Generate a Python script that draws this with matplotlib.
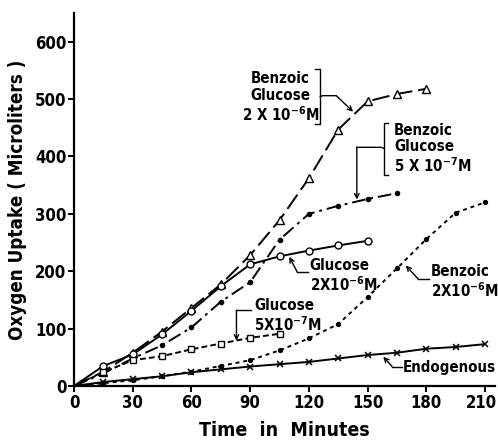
import matplotlib
matplotlib.use("Agg")
import matplotlib.pyplot as plt
from matplotlib.transforms import ScaledTranslation

# узкий жирный шрифт, как в старой печати
plt.rcParams["font.family"] = ["DejaVu Sans"]
plt.rcParams["font.weight"] = "bold"
plt.rcParams["font.stretch"] = "condensed"
plt.rcParams["mathtext.fontset"] = "custom"
plt.rcParams["mathtext.rm"] = "DejaVu Sans:weight=bold:stretch=condensed"
plt.rcParams["mathtext.default"] = "rm"

minutes = [0, 15, 30, 45, 60, 75, 90, 105, 120, 135, 150, 165, 180, 195, 210]

# кривые поглощения кислорода
benz_gluc_2e6 = [0, 25, 58, 95, 136, 177, 228, 289, 362, 447, 496, 509, 518]
benz_gluc_5e7 = [0, 22, 48, 71, 102, 147, 181, 255, 300, 314, 326, 336]
gluc_2e6 = [0, 35, 55, 90, 131, 174, 212, 226, 236, 245, 253]
gluc_5e7 = [0, 24, 45, 52, 64, 74, 84, 91]
benz_2e6 = [0, 5, 10, 17, 25, 35, 45, 62, 83, 108, 155, 205, 256, 302, 320]
endogenous = [0, 7, 12, 17, 24, 29, 34, 38, 42, 48, 54, 58, 65, 68, 73]

x_ticks = [0, 30, 60, 90, 120, 150, 180, 210]
y_ticks = [0, 100, 200, 300, 400, 500, 600]

fig = plt.figure(figsize=(4.98, 4.44), dpi=100)
ax = fig.add_axes([0.1486, 0.1306, 0.845, 0.840])

lw = 1.4
ax.plot(minutes[:len(benz_gluc_2e6)], benz_gluc_2e6, color="black", lw=lw,
        dashes=(9, 3), marker="^", mfc="white", mec="black", ms=5.5,
        markevery=slice(1, None))
ax.plot(minutes[:len(benz_gluc_5e7)], benz_gluc_5e7, color="black", lw=lw,
        dashes=(7, 2.5, 1.5, 2.5), marker="o", mfc="black", mec="black", ms=3,
        markevery=slice(1, None))
ax.plot(minutes[:len(gluc_2e6)], gluc_2e6, color="black", lw=lw,
        marker="o", mfc="white", mec="black", ms=5, markevery=slice(1, None))
ax.plot(minutes[:len(gluc_5e7)], gluc_5e7, color="black", lw=lw,
        dashes=(3, 1.6), marker="s", mfc="white", mec="black", ms=4.2,
        markevery=slice(1, None))
ax.plot(minutes, benz_2e6, color="black", lw=lw,
        dashes=(2, 2), marker="o", mfc="black", mec="black", ms=2.8,
        markevery=slice(1, None))
ax.plot(minutes, endogenous, color="black", lw=lw,
        marker="x", mec="black", ms=4, mew=1.1, markevery=slice(1, None))

ax.set_xlim(0, 215)
ax.set_ylim(0, 650)
ax.set_xticks(x_ticks)
ax.set_yticks(y_ticks)
for s in ["top", "right"]:
    ax.spines[s].set_visible(False)
for s in ["left", "bottom"]:
    ax.spines[s].set_linewidth(1.6)
ax.tick_params(direction="out", length=4, width=1.4, labelsize=12, pad=1.5)
# последняя подпись "210" у самого края — чуть сдвинуть влево
last = ax.xaxis.get_major_ticks()[-1].label1
last.set_transform(last.get_transform()
                   + ScaledTranslation(-2.5 / 72, 0, fig.dpi_scale_trans))
ax.set_xlabel("Time  in  Minutes", fontsize=14, fontweight="bold", labelpad=7)
ax.set_ylabel("Oxygen Uptake ( Microliters )", fontsize=13.5,
              fontweight="bold", labelpad=6)

tkw = dict(fontsize=10.8, fontweight="bold", linespacing=1.15)
lkw = dict(color="black", lw=1.0, clip_on=False)
akw = dict(arrowstyle="->", lw=1.0, color="black", shrinkA=0, shrinkB=0,
           mutation_scale=8)

# Benzoic Glucose 2x10^-6 M
ax.text(105.5, 503, "Benzoic\nGlucose\n2 X 10$^{-6}$M", ha="center",
        va="center", multialignment="center", **tkw)
ax.plot([123, 125.8, 125.8, 123], [553, 553, 457, 457], **lkw)
ax.plot([125.8, 127, 134], [504, 506, 506], **lkw)
ax.annotate("", xy=(142.6, 478), xytext=(134, 506), arrowprops=akw)

# Benzoic Glucose 5x10^-7 M
ax.text(163.5, 413, "Benzoic\nGlucose\n5 X 10$^{-7}$M", ha="left",
        va="center", **tkw)
ax.plot([160.5, 158.5, 158.5, 160.5], [459, 459, 368, 368], **lkw)
ax.plot([158.5, 157, 144.5], [414, 416, 416], **lkw)
ax.annotate("", xy=(144.5, 325), xytext=(144.5, 416), arrowprops=akw)

# Glucose 2x10^-6 M
ax.text(120.5, 191, "Glucose\n2X10$^{-6}$M", ha="left", va="center", **tkw)
ax.plot([119.8, 114], [199, 199], **lkw)
ax.annotate("", xy=(110, 225), xytext=(114, 199), arrowprops=akw)

# Glucose 5x10^-7 M
ax.text(92, 122, "Glucose\n5X10$^{-7}$M", ha="left", va="center", **tkw)
ax.plot([90.5, 83], [132, 132], **lkw)
ax.annotate("", xy=(83, 79), xytext=(83, 132), arrowprops=akw)

# Benzoic 2x10^-6 M
ax.text(182.5, 181, "Benzoic\n2X10$^{-6}$M", ha="left", va="center", **tkw)
ax.plot([181.5, 176], [186, 186], **lkw)
ax.annotate("", xy=(169.5, 210), xytext=(176, 186), arrowprops=akw)

# Endogenous
ax.text(168, 32, "Endogenous", ha="left", va="center", **tkw)
ax.plot([167.5, 162.5], [34, 34], **lkw)
ax.annotate("", xy=(158, 51), xytext=(162.5, 34), arrowprops=akw)

fig.savefig("out.png", dpi=100)
